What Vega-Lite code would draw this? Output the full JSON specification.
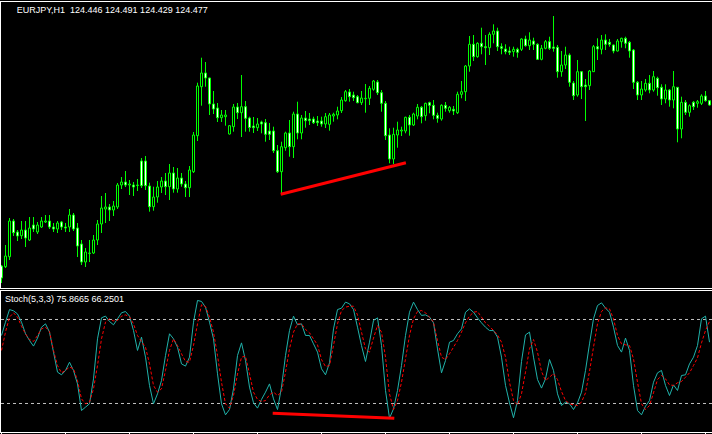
{
"$schema": "https://vega.github.io/schema/vega-lite/v6.json",
"background": "#000000",
"padding": {"left": 0, "top": 1, "right": 0, "bottom": 0},
"spacing": 1,
"bounds": "flush",
"config": {"view": {"stroke": null}},
"datasets": {
"candles": [
{"i":0,"o":122.82,"h":122.83,"l":122.65,"c":122.70},
{"i":1,"o":122.813,"h":123.03,"l":122.80,"c":122.92},
{"i":2,"o":122.913,"h":123.30,"l":122.88,"c":123.27},
{"i":3,"o":123.27,"h":123.29,"l":123.12,"c":123.153},
{"i":4,"o":123.16,"h":123.18,"l":123.07,"c":123.12},
{"i":5,"o":123.123,"h":123.27,"l":123.09,"c":123.18},
{"i":6,"o":123.18,"h":123.27,"l":123.01,"c":123.10},
{"i":7,"o":123.08,"h":123.31,"l":123.07,"c":123.20},
{"i":8,"o":123.23,"h":123.31,"l":123.16,"c":123.19},
{"i":9,"o":123.16,"h":123.26,"l":123.14,"c":123.23},
{"i":10,"o":123.21,"h":123.31,"l":123.20,"c":123.27},
{"i":11,"o":123.26,"h":123.33,"l":123.25,"c":123.27},
{"i":12,"o":123.27,"h":123.33,"l":123.19,"c":123.21},
{"i":13,"o":123.21,"h":123.25,"l":123.16,"c":123.19},
{"i":14,"o":123.19,"h":123.27,"l":123.15,"c":123.25},
{"i":15,"o":123.26,"h":123.27,"l":123.18,"c":123.21},
{"i":16,"o":123.21,"h":123.25,"l":123.16,"c":123.20},
{"i":17,"o":123.21,"h":123.39,"l":123.16,"c":123.33},
{"i":18,"o":123.33,"h":123.35,"l":123.17,"c":123.19},
{"i":19,"o":123.20,"h":123.25,"l":122.91,"c":123.02},
{"i":20,"o":123.04,"h":123.08,"l":122.83,"c":122.86},
{"i":21,"o":122.86,"h":123.00,"l":122.81,"c":122.96},
{"i":22,"o":122.945,"h":123.08,"l":122.86,"c":122.95},
{"i":23,"o":122.95,"h":123.13,"l":122.94,"c":123.08},
{"i":24,"o":123.08,"h":123.28,"l":123.03,"c":123.24},
{"i":25,"o":123.24,"h":123.52,"l":123.15,"c":123.40},
{"i":26,"o":123.39,"h":123.55,"l":123.25,"c":123.41},
{"i":27,"o":123.41,"h":123.44,"l":123.27,"c":123.38},
{"i":28,"o":123.38,"h":123.47,"l":123.32,"c":123.42},
{"i":29,"o":123.41,"h":123.65,"l":123.39,"c":123.63},
{"i":30,"o":123.63,"h":123.71,"l":123.59,"c":123.66},
{"i":31,"o":123.66,"h":123.77,"l":123.61,"c":123.63},
{"i":32,"o":123.63,"h":123.68,"l":123.53,"c":123.64},
{"i":33,"o":123.63,"h":123.66,"l":123.52,"c":123.61},
{"i":34,"o":123.625,"h":123.69,"l":123.57,"c":123.63},
{"i":35,"o":123.87,"h":123.90,"l":123.60,"c":123.623},
{"i":36,"o":123.87,"h":123.92,"l":123.58,"c":123.623},
{"i":37,"o":123.62,"h":123.653,"l":123.363,"c":123.413},
{"i":38,"o":123.413,"h":123.613,"l":123.373,"c":123.51},
{"i":39,"o":123.51,"h":123.67,"l":123.453,"c":123.61},
{"i":40,"o":123.61,"h":123.71,"l":123.55,"c":123.67},
{"i":41,"o":123.67,"h":123.75,"l":123.53,"c":123.613},
{"i":42,"o":123.613,"h":123.84,"l":123.48,"c":123.75},
{"i":43,"o":123.75,"h":123.81,"l":123.553,"c":123.59},
{"i":44,"o":123.59,"h":123.80,"l":123.553,"c":123.70},
{"i":45,"o":123.70,"h":123.75,"l":123.613,"c":123.64},
{"i":46,"o":123.64,"h":123.67,"l":123.51,"c":123.603},
{"i":47,"o":123.603,"h":123.82,"l":123.51,"c":123.78},
{"i":48,"o":123.763,"h":124.16,"l":123.75,"c":124.13},
{"i":49,"o":124.123,"h":124.653,"l":124.07,"c":124.62},
{"i":50,"o":124.613,"h":124.903,"l":124.423,"c":124.75},
{"i":51,"o":124.75,"h":124.86,"l":124.613,"c":124.70},
{"i":52,"o":124.70,"h":124.703,"l":124.33,"c":124.44},
{"i":53,"o":124.44,"h":124.57,"l":124.34,"c":124.39},
{"i":54,"o":124.40,"h":124.45,"l":124.26,"c":124.303},
{"i":55,"o":124.303,"h":124.38,"l":124.26,"c":124.33},
{"i":56,"o":124.313,"h":124.38,"l":124.223,"c":124.33},
{"i":57,"o":124.14,"h":124.23,"l":124.135,"c":124.223},
{"i":58,"o":124.213,"h":124.44,"l":124.163,"c":124.41},
{"i":59,"o":124.41,"h":124.45,"l":124.29,"c":124.353},
{"i":60,"o":124.353,"h":124.73,"l":124.11,"c":124.413},
{"i":61,"o":124.413,"h":124.47,"l":124.163,"c":124.297},
{"i":62,"o":124.30,"h":124.313,"l":124.163,"c":124.205},
{"i":63,"o":124.22,"h":124.31,"l":124.15,"c":124.203},
{"i":64,"o":124.203,"h":124.30,"l":124.17,"c":124.24},
{"i":65,"o":124.26,"h":124.273,"l":124.147,"c":124.24},
{"i":66,"o":124.253,"h":124.29,"l":124.063,"c":124.137},
{"i":67,"o":124.17,"h":124.25,"l":124.08,"c":124.137},
{"i":68,"o":124.17,"h":124.213,"l":123.95,"c":123.973},
{"i":69,"o":123.973,"h":124.03,"l":123.75,"c":123.763},
{"i":70,"o":123.763,"h":124.063,"l":123.55,"c":124.013},
{"i":71,"o":124.003,"h":124.163,"l":123.973,"c":124.15},
{"i":72,"o":124.15,"h":124.28,"l":123.913,"c":124.013},
{"i":73,"o":124.013,"h":124.363,"l":123.90,"c":124.34},
{"i":74,"o":124.34,"h":124.463,"l":124.087,"c":124.15},
{"i":75,"o":124.15,"h":124.33,"l":124.087,"c":124.30},
{"i":76,"o":124.30,"h":124.37,"l":124.203,"c":124.273},
{"i":77,"o":124.29,"h":124.35,"l":124.23,"c":124.273},
{"i":78,"o":124.29,"h":124.313,"l":124.24,"c":124.253},
{"i":79,"o":124.27,"h":124.32,"l":124.22,"c":124.253},
{"i":80,"o":124.27,"h":124.313,"l":124.213,"c":124.24},
{"i":81,"o":124.24,"h":124.35,"l":124.20,"c":124.313},
{"i":82,"o":124.237,"h":124.35,"l":124.173,"c":124.33},
{"i":83,"o":124.32,"h":124.353,"l":124.263,"c":124.337},
{"i":84,"o":124.33,"h":124.413,"l":124.287,"c":124.37},
{"i":85,"o":124.373,"h":124.51,"l":124.35,"c":124.48},
{"i":86,"o":124.473,"h":124.58,"l":124.463,"c":124.563},
{"i":87,"o":124.56,"h":124.59,"l":124.463,"c":124.513},
{"i":88,"o":124.53,"h":124.563,"l":124.47,"c":124.503},
{"i":89,"o":124.513,"h":124.53,"l":124.447,"c":124.453},
{"i":90,"o":124.453,"h":124.57,"l":124.43,"c":124.50},
{"i":91,"o":124.493,"h":124.64,"l":124.353,"c":124.497},
{"i":92,"o":124.497,"h":124.62,"l":124.43,"c":124.597},
{"i":93,"o":124.587,"h":124.68,"l":124.573,"c":124.67},
{"i":94,"o":124.66,"h":124.68,"l":124.53,"c":124.553},
{"i":95,"o":124.553,"h":124.58,"l":124.363,"c":124.447},
{"i":96,"o":124.447,"h":124.47,"l":124.08,"c":124.123},
{"i":97,"o":124.13,"h":124.197,"l":123.847,"c":123.89},
{"i":98,"o":123.89,"h":124.203,"l":123.84,"c":124.137},
{"i":99,"o":124.13,"h":124.263,"l":124.003,"c":124.18},
{"i":100,"o":124.17,"h":124.213,"l":124.12,"c":124.18},
{"i":101,"o":124.17,"h":124.313,"l":124.147,"c":124.307},
{"i":102,"o":124.307,"h":124.33,"l":124.123,"c":124.23},
{"i":103,"o":124.23,"h":124.353,"l":124.22,"c":124.34},
{"i":104,"o":124.32,"h":124.44,"l":124.287,"c":124.407},
{"i":105,"o":124.407,"h":124.42,"l":124.247,"c":124.313},
{"i":106,"o":124.323,"h":124.453,"l":124.273,"c":124.447},
{"i":107,"o":124.453,"h":124.463,"l":124.347,"c":124.427},
{"i":108,"o":124.427,"h":124.48,"l":124.287,"c":124.327},
{"i":109,"o":124.327,"h":124.353,"l":124.253,"c":124.297},
{"i":110,"o":124.29,"h":124.437,"l":124.273,"c":124.427},
{"i":111,"o":124.427,"h":124.46,"l":124.363,"c":124.397},
{"i":112,"o":124.373,"h":124.42,"l":124.353,"c":124.407},
{"i":113,"o":124.387,"h":124.42,"l":124.33,"c":124.37},
{"i":114,"o":124.353,"h":124.563,"l":124.34,"c":124.537},
{"i":115,"o":124.537,"h":124.67,"l":124.497,"c":124.563},
{"i":116,"o":124.563,"h":124.83,"l":124.47,"c":124.82},
{"i":117,"o":124.82,"h":125.12,"l":124.763,"c":125.037},
{"i":118,"o":125.037,"h":125.13,"l":124.87,"c":124.913},
{"i":119,"o":124.913,"h":125.057,"l":124.903,"c":125.047},
{"i":120,"o":125.047,"h":125.203,"l":124.937,"c":125.013},
{"i":121,"o":125.013,"h":125.13,"l":124.83,"c":125.003},
{"i":122,"o":125.003,"h":125.157,"l":124.93,"c":125.137},
{"i":123,"o":125.137,"h":125.237,"l":125.047,"c":125.17},
{"i":124,"o":125.17,"h":125.203,"l":124.97,"c":125.013},
{"i":125,"o":125.013,"h":125.047,"l":124.937,"c":124.997},
{"i":126,"o":124.99,"h":125.037,"l":124.937,"c":124.963},
{"i":127,"o":124.97,"h":125.013,"l":124.93,"c":124.957},
{"i":128,"o":124.963,"h":125.013,"l":124.913,"c":124.987},
{"i":129,"o":124.987,"h":125.003,"l":124.903,"c":124.957},
{"i":130,"o":124.987,"h":125.097,"l":124.97,"c":125.09},
{"i":131,"o":125.09,"h":125.123,"l":125.013,"c":125.023},
{"i":132,"o":125.023,"h":125.157,"l":124.98,"c":125.08},
{"i":133,"o":125.07,"h":125.103,"l":124.98,"c":125.037},
{"i":134,"o":125.037,"h":125.047,"l":124.88,"c":124.887},
{"i":135,"o":124.887,"h":125.03,"l":124.877,"c":124.997},
{"i":136,"o":124.997,"h":125.08,"l":124.987,"c":125.063},
{"i":137,"o":125.063,"h":125.113,"l":124.98,"c":124.997},
{"i":138,"o":125.01,"h":125.32,"l":124.963,"c":124.997},
{"i":139,"o":125.007,"h":125.03,"l":124.703,"c":124.763},
{"i":140,"o":124.763,"h":124.97,"l":124.713,"c":124.83},
{"i":141,"o":124.83,"h":125.013,"l":124.79,"c":124.93},
{"i":142,"o":124.93,"h":124.947,"l":124.613,"c":124.657},
{"i":143,"o":124.65,"h":124.67,"l":124.48,"c":124.523},
{"i":144,"o":124.53,"h":124.88,"l":124.513,"c":124.763},
{"i":145,"o":124.763,"h":124.77,"l":124.49,"c":124.613},
{"i":146,"o":124.63,"h":124.69,"l":124.27,"c":124.613},
{"i":147,"o":124.623,"h":124.78,"l":124.58,"c":124.77},
{"i":148,"o":124.763,"h":125.03,"l":124.76,"c":125.013},
{"i":149,"o":125.013,"h":125.097,"l":124.88,"c":124.99},
{"i":150,"o":124.987,"h":125.13,"l":124.937,"c":125.08},
{"i":151,"o":125.08,"h":125.137,"l":124.98,"c":125.037},
{"i":152,"o":125.057,"h":125.09,"l":125.013,"c":125.037},
{"i":153,"o":125.03,"h":125.035,"l":124.947,"c":124.97},
{"i":154,"o":124.97,"h":125.09,"l":124.965,"c":125.07},
{"i":155,"o":125.063,"h":125.103,"l":125.003,"c":125.097},
{"i":156,"o":125.097,"h":125.113,"l":124.997,"c":125.047},
{"i":157,"o":125.057,"h":125.07,"l":124.903,"c":124.97},
{"i":158,"o":124.98,"h":124.99,"l":124.59,"c":124.657},
{"i":159,"o":124.657,"h":124.67,"l":124.48,"c":124.53},
{"i":160,"o":124.53,"h":124.67,"l":124.48,"c":124.59},
{"i":161,"o":124.58,"h":124.69,"l":124.563,"c":124.647},
{"i":162,"o":124.647,"h":124.73,"l":124.547,"c":124.58},
{"i":163,"o":124.58,"h":124.77,"l":124.563,"c":124.713},
{"i":164,"o":124.697,"h":124.713,"l":124.523,"c":124.603},
{"i":165,"o":124.607,"h":124.637,"l":124.43,"c":124.49},
{"i":166,"o":124.49,"h":124.637,"l":124.447,"c":124.58},
{"i":167,"o":124.58,"h":124.59,"l":124.413,"c":124.48},
{"i":168,"o":124.48,"h":124.77,"l":124.397,"c":124.613},
{"i":169,"o":124.607,"h":124.61,"l":124.057,"c":124.19},
{"i":170,"o":124.19,"h":124.513,"l":124.097,"c":124.457},
{"i":171,"o":124.457,"h":124.48,"l":124.33,"c":124.357},
{"i":172,"o":124.357,"h":124.437,"l":124.313,"c":124.423},
{"i":173,"o":124.457,"h":124.47,"l":124.38,"c":124.413},
{"i":174,"o":124.447,"h":124.48,"l":124.403,"c":124.463},
{"i":175,"o":124.447,"h":124.537,"l":124.43,"c":124.52},
{"i":176,"o":124.52,"h":124.57,"l":124.463,"c":124.473},
{"i":177,"o":124.473,"h":124.48,"l":124.423,"c":124.43}
],
"stoch": [
{"i":0,"k":68.6,"d":57.9},{"i":1,"k":78.1,"d":71.0},{"i":2,"k":87.1,"d":81.7},{"i":3,"k":86.2,"d":84.8},
{"i":4,"k":84.0,"d":81.7},{"i":5,"k":78.1,"d":75.2},{"i":6,"k":69.8,"d":69.8},{"i":7,"k":65.0,"d":65.7},
{"i":8,"k":61.0,"d":64.3},{"i":9,"k":66.7,"d":68.6},{"i":10,"k":74.5,"d":73.3},{"i":11,"k":76.9,"d":74.5},
{"i":12,"k":71.0,"d":71.4},{"i":13,"k":56.7,"d":57.9},{"i":14,"k":42.4,"d":47.1},{"i":15,"k":40.5,"d":41.9},
{"i":16,"k":43.6,"d":43.6},{"i":17,"k":49.5,"d":46.0},{"i":18,"k":43.6,"d":44.8},{"i":19,"k":34.0,"d":36.4},
{"i":20,"k":15.0,"d":23.3},{"i":21,"k":17.4,"d":19.8},{"i":22,"k":19.8,"d":21.0},{"i":23,"k":37.6,"d":30.5},
{"i":24,"k":66.2,"d":47.1},{"i":25,"k":81.2,"d":66.2},{"i":26,"k":82.4,"d":78.1},{"i":27,"k":78.6,"d":80.5},
{"i":28,"k":76.2,"d":79.0},{"i":29,"k":80.5,"d":79.3},{"i":30,"k":84.8,"d":82.4},{"i":31,"k":85.7,"d":83.3},
{"i":32,"k":82.4,"d":81.9},{"i":33,"k":72.1,"d":76.9},{"i":34,"k":57.9,"d":68.6},{"i":35,"k":67.4,"d":64.3},
{"i":36,"k":53.1,"d":60.2},{"i":37,"k":32.9,"d":48.3},{"i":38,"k":19.8,"d":32.9},{"i":39,"k":26.9,"d":28.1},
{"i":40,"k":36.4,"d":30.5},{"i":41,"k":54.3,"d":43.6},{"i":42,"k":69.8,"d":57.9},{"i":43,"k":66.2,"d":66.2},
{"i":44,"k":60.2,"d":61.4},{"i":45,"k":48.3,"d":55.5},{"i":46,"k":46.7,"d":50.0},{"i":47,"k":53.1,"d":49.5},
{"i":48,"k":78.1,"d":61.4},{"i":49,"k":93.6,"d":76.9},{"i":50,"k":92.9,"d":90.5},{"i":51,"k":88.8,"d":89.3},
{"i":52,"k":78.1,"d":81.7},{"i":53,"k":66.2,"d":71.0},{"i":54,"k":41.2,"d":54.3},{"i":55,"k":19.8,"d":35.2},
{"i":56,"k":11.9,"d":19.8},{"i":57,"k":15.7,"d":16.7},{"i":58,"k":30.5,"d":25.7},{"i":59,"k":54.3,"d":41.0},
{"i":60,"k":63.3,"d":53.1},{"i":61,"k":50.7,"d":53.8},{"i":62,"k":31.7,"d":41.2},{"i":63,"k":20.5,"d":28.1},
{"i":64,"k":16.7,"d":22.9},{"i":65,"k":22.9,"d":21.4},{"i":66,"k":28.1,"d":22.1},{"i":67,"k":34.0,"d":26.2},
{"i":68,"k":23.3,"d":28.1},{"i":69,"k":15.7,"d":25.7},{"i":70,"k":31.7,"d":28.1},{"i":71,"k":54.3,"d":42.4},
{"i":72,"k":72.1,"d":59.0},{"i":73,"k":82.4,"d":71.0},{"i":74,"k":76.2,"d":76.9},{"i":75,"k":76.9,"d":76.9},
{"i":76,"k":68.6,"d":72.9},{"i":77,"k":68.6,"d":70.5},{"i":78,"k":62.6,"d":66.2},{"i":79,"k":56.7,"d":61.9},
{"i":80,"k":44.8,"d":51.4},{"i":81,"k":40.5,"d":46.4},{"i":82,"k":49.0,"d":47.1},{"i":83,"k":73.3,"d":61.4},
{"i":84,"k":87.1,"d":76.9},{"i":85,"k":88.1,"d":86.4},{"i":86,"k":92.4,"d":88.8},{"i":87,"k":91.2,"d":89.5},
{"i":88,"k":87.1,"d":89.5},{"i":89,"k":74.5,"d":83.3},{"i":90,"k":61.4,"d":71.0},{"i":91,"k":50.0,"d":59.0},
{"i":92,"k":63.8,"d":56.7},{"i":93,"k":79.3,"d":66.7},{"i":94,"k":81.2,"d":75.7},{"i":95,"k":61.4,"d":71.0},
{"i":96,"k":29.3,"d":53.1},{"i":97,"k":9.5,"d":26.9},{"i":98,"k":16.2,"d":15.7},{"i":99,"k":29.3,"d":22.1},
{"i":100,"k":47.1,"d":35.2},{"i":101,"k":68.6,"d":51.9},{"i":102,"k":85.2,"d":68.6},{"i":103,"k":92.4,"d":80.5},
{"i":104,"k":87.1,"d":85.7},{"i":105,"k":82.9,"d":86.4},{"i":106,"k":83.3,"d":84.8},{"i":107,"k":81.7,"d":81.7},
{"i":108,"k":77.6,"d":78.1},{"i":109,"k":59.0,"d":65.0},{"i":110,"k":41.9,"d":53.1},{"i":111,"k":50.7,"d":51.4},
{"i":112,"k":63.8,"d":55.5},{"i":113,"k":65.0,"d":60.2},{"i":114,"k":69.8,"d":65.0},{"i":115,"k":73.3,"d":71.0},
{"i":116,"k":85.2,"d":77.6},{"i":117,"k":87.6,"d":82.4},{"i":118,"k":85.2,"d":85.2},{"i":119,"k":81.2,"d":85.7},
{"i":120,"k":77.6,"d":81.7},{"i":121,"k":74.5,"d":77.6},{"i":122,"k":72.1,"d":75.2},{"i":123,"k":72.1,"d":72.1},
{"i":124,"k":67.4,"d":69.0},{"i":125,"k":53.1,"d":63.8},{"i":126,"k":32.9,"d":53.1},{"i":127,"k":20.5,"d":35.2},
{"i":128,"k":9.8,"d":22.1},{"i":129,"k":22.1,"d":19.0},{"i":130,"k":50.0,"d":26.9},{"i":131,"k":69.0,"d":42.4},
{"i":132,"k":71.0,"d":59.0},{"i":133,"k":53.1,"d":65.7},{"i":134,"k":37.1,"d":56.7},{"i":135,"k":31.0,"d":42.9},
{"i":136,"k":37.6,"d":36.4},{"i":137,"k":51.4,"d":38.8},{"i":138,"k":43.6,"d":41.4},{"i":139,"k":26.9,"d":37.1},
{"i":140,"k":18.6,"d":28.6},{"i":141,"k":21.0,"d":22.1},{"i":142,"k":19.8,"d":19.8},{"i":143,"k":15.7,"d":19.0},
{"i":144,"k":20.5,"d":18.6},{"i":145,"k":28.1,"d":21.0},{"i":146,"k":43.6,"d":27.6},{"i":147,"k":62.6,"d":42.9},
{"i":148,"k":80.5,"d":60.2},{"i":149,"k":90.0,"d":76.9},{"i":150,"k":91.9,"d":85.7},{"i":151,"k":88.1,"d":88.3},
{"i":152,"k":85.2,"d":87.6},{"i":153,"k":74.5,"d":80.5},{"i":154,"k":61.4,"d":68.6},{"i":155,"k":56.7,"d":62.6},
{"i":156,"k":66.7,"d":61.9},{"i":157,"k":57.9,"d":61.4},{"i":158,"k":32.9,"d":51.9},{"i":159,"k":15.0,"d":35.2},
{"i":160,"k":11.9,"d":19.8},{"i":161,"k":18.1,"d":15.7},{"i":162,"k":22.1,"d":18.6},{"i":163,"k":35.2,"d":27.6},
{"i":164,"k":41.9,"d":37.1},{"i":165,"k":43.6,"d":40.0},{"i":166,"k":32.9,"d":37.6},{"i":167,"k":25.7,"d":33.3},
{"i":168,"k":33.3,"d":32.9},{"i":169,"k":29.3,"d":34.8},{"i":170,"k":40.0,"d":35.7},{"i":171,"k":40.5,"d":38.8},
{"i":172,"k":48.3,"d":41.9},{"i":173,"k":53.1,"d":47.1},{"i":174,"k":61.4,"d":52.6},{"i":175,"k":80.5,"d":63.3},
{"i":176,"k":82.4,"d":72.1},{"i":177,"k":63.8,"d":78.6}
],
"ticks": [{"t":0},{"t":16},{"t":32},{"t":48},{"t":64},{"t":80},{"t":96},{"t":112},{"t":128},{"t":144},{"t":160},{"t":176}]
},
"vconcat": [
{
"width": 712, "height": 288,
"encoding": {
 "x": {"type": "quantitative", "scale": {"domain": [-0.375, 177.625], "nice": false, "zero": false, "padding": 0}, "axis": null},
 "y": {"type": "quantitative", "scale": {"domain": [122.59, 125.47], "nice": false, "zero": false, "padding": 0}, "axis": null}
},
"layer": [
{"data": {"name": "candles"},
 "mark": {"type": "rule", "color": "#00FF00", "strokeWidth": 1, "clip": true},
 "encoding": {"x": {"field": "i"}, "y": {"field": "l"}, "y2": {"field": "h"}}},
{"data": {"name": "candles"},
 "mark": {"type": "bar", "width": 2, "stroke": "#00FF00", "strokeWidth": 1, "clip": true},
 "encoding": {"x": {"field": "i"}, "y": {"field": "o"}, "y2": {"field": "c"},
  "fill": {"condition": {"test": "datum.c < datum.o", "value": "#FFFFFF"}, "value": "#000000"}}},
{"data": {"values": [{"i": 69.8, "p": 123.537}, {"i": 101.1, "p": 123.853}]},
 "mark": {"type": "line", "color": "#FF0000", "strokeWidth": 3, "clip": true},
 "encoding": {"x": {"field": "i"}, "y": {"field": "p"}}},
{"data": {"values": [{}]},
 "mark": {"type": "rect", "color": "#FFFFFF"},
 "encoding": {"x": {"datum": -0.375}, "x2": {"datum": 177.625}, "y": {"datum": 125.47}, "y2": {"datum": 125.46}}},
{"data": {"values": [{}]},
 "mark": {"type": "rect", "color": "#FFFFFF"},
 "encoding": {"x": {"datum": -0.375}, "x2": {"datum": 177.625}, "y": {"datum": 122.60}, "y2": {"datum": 122.59}}},
{"data": {"values": [{}]},
 "mark": {"type": "rect", "color": "#FFFFFF"},
 "encoding": {"x": {"datum": -0.375}, "x2": {"datum": -0.125}, "y": {"datum": 125.47}, "y2": {"datum": 122.59}}},
{"data": {"values": [{"label": "EURJPY,H1\u00a0 124.446 124.491 124.429 124.477", "i": 3.8, "p": 125.383}]},
 "mark": {"type": "text", "align": "left", "baseline": "middle", "font": "Liberation Sans", "fontSize": 9, "color": "#FFFFFF"},
 "encoding": {"x": {"field": "i"}, "y": {"field": "p"}, "text": {"field": "label"}}}
]
},
{
"width": 712, "height": 144,
"encoding": {
 "x": {"type": "quantitative", "scale": {"domain": [-0.375, 177.625], "nice": false, "zero": false, "padding": 0}, "axis": null},
 "y": {"type": "quantitative", "scale": {"domain": [-1.786, 101.071], "nice": false, "zero": false, "padding": 0}, "axis": null}
},
"layer": [
{"data": {"values": [{"level": 20}, {"level": 80}]},
 "mark": {"type": "rule", "color": "#C0C0C0", "strokeWidth": 1, "strokeDash": [3, 3], "clip": true},
 "encoding": {"y": {"field": "level"}}},
{"data": {"name": "stoch"},
 "mark": {"type": "line", "color": "#20B2AA", "strokeWidth": 1, "clip": true},
 "encoding": {"x": {"field": "i"}, "y": {"field": "k"}}},
{"data": {"name": "stoch"},
 "mark": {"type": "line", "color": "#FF0000", "strokeWidth": 1, "strokeDash": [3, 2], "clip": true},
 "encoding": {"x": {"field": "i"}, "y": {"field": "d"}}},
{"data": {"values": [{"i": 67.8, "v": 13.07}, {"i": 98.2, "v": 9.5}]},
 "mark": {"type": "line", "color": "#FF0000", "strokeWidth": 3, "clip": true},
 "encoding": {"x": {"field": "i"}, "y": {"field": "v"}}},
{"data": {"values": [{}]},
 "mark": {"type": "rect", "color": "#FFFFFF"},
 "encoding": {"x": {"datum": -0.375}, "x2": {"datum": 177.625}, "y": {"datum": 101.071}, "y2": {"datum": 100.357}}},
{"data": {"values": [{}]},
 "mark": {"type": "rect", "color": "#FFFFFF"},
 "encoding": {"x": {"datum": -0.375}, "x2": {"datum": 177.625}, "y": {"datum": -0.357}, "y2": {"datum": -1.071}}},
{"data": {"values": [{}]},
 "mark": {"type": "rect", "color": "#FFFFFF"},
 "encoding": {"x": {"datum": -0.375}, "x2": {"datum": -0.125}, "y": {"datum": 101.071}, "y2": {"datum": -1.071}}},
{"data": {"name": "ticks"},
 "mark": {"type": "bar", "width": 1, "color": "#FFFFFF"},
 "encoding": {"x": {"field": "t"}, "y": {"datum": -0.357}, "y2": {"datum": -1.786}}},
{"data": {"values": [{"label": "Stoch(5,3,3) 75.8665 66.2501", "i": 0.875, "v": 94.29}]},
 "mark": {"type": "text", "align": "left", "baseline": "middle", "font": "Liberation Sans", "fontSize": 9, "color": "#FFFFFF"},
 "encoding": {"x": {"field": "i"}, "y": {"field": "v"}, "text": {"field": "label"}}}
]
}
]
}
